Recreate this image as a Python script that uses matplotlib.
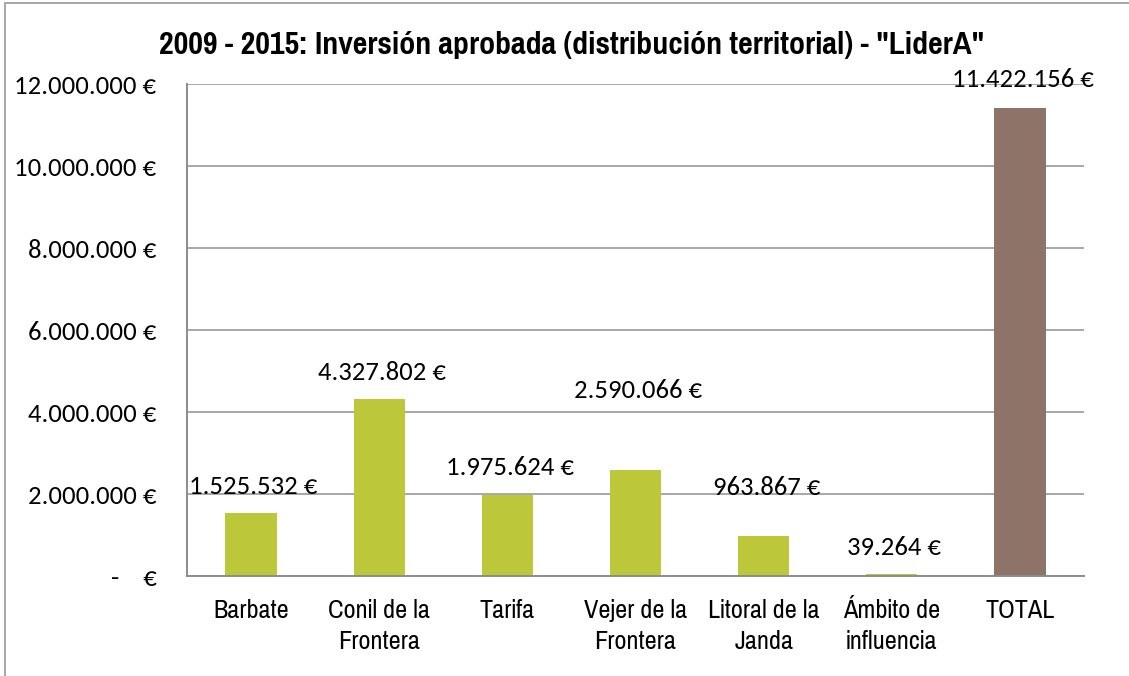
import matplotlib
matplotlib.use("Agg")
import matplotlib.pyplot as plt
from matplotlib import font_manager
from matplotlib.patches import Rectangle
from matplotlib.ticker import FuncFormatter, MultipleLocator

categories = ["Barbate", "Conil de la\nFrontera", "Tarifa", "Vejer de la\nFrontera",
              "Litoral de la\nJanda", "Ámbito de\ninfluencia", "TOTAL"]
values = [1525532, 4327802, 1975624, 2590066, 963867, 39264, 11422156]
bar_colors = ["#BCC83A"] * 6 + ["#8E7468"]
label_offsets_px = [26.5, 25.6, 27, 79, 48.5, 26.4, 28]
title = '2009 - 2015: Inversión aprobada (distribución territorial) - "LiderA"'

available = {f.name for f in font_manager.fontManager.ttflist}
narrow = [n for n in ["Pragati Narrow", "Liberation Sans Narrow", "Arial Narrow"] if n in available][:1] + ["Liberation Sans", "DejaVu Sans"]
num_font = [n for n in ["Carlito", "Calibri", "Lato"] if n in available][:1] + ["DejaVu Sans"]

W, H = 1129, 676
fig = plt.figure(figsize=(W / 100, H / 100), dpi=100)
fig.patch.set_facecolor("white")

# outer chart frame
fig.add_artist(Rectangle((5 / W, -0.2), 1.5, 1.2 - 2.5 / H, transform=fig.transFigure,
                         fill=False, edgecolor="#A6A6A6", linewidth=1.4))

ax = fig.add_axes([187 / W, 1 - 576 / H, 897 / W, 492 / H])
x = list(range(len(categories)))
ax.bar(x, values, width=0.4, color=bar_colors, zorder=3)
ax.set_xlim(-0.5, len(categories) - 0.5)
ax.set_ylim(0, 12000000)
ax.yaxis.set_major_locator(MultipleLocator(2000000))


def fmt(v, pos=None):
    if abs(v) < 0.5:
        return "-    €"
    return f"{int(round(v)):,}".replace(",", ".") + " €"


ax.yaxis.set_major_formatter(FuncFormatter(fmt))
ax.grid(axis="y", color="#A0A0A0", linewidth=1.3, zorder=0)
for s in ["top", "right"]:
    ax.spines[s].set_visible(False)
for s in ["left", "bottom"]:
    ax.spines[s].set_color("#8C8C8C")
    ax.spines[s].set_linewidth(1.4)
ax.spines["bottom"].set_zorder(4)

ax.set_xticks(x)
ax.set_xticklabels(categories, fontfamily=narrow, fontsize=20.6, linespacing=1.45)
ax.tick_params(axis="x", length=0, pad=16.5)
ax.tick_params(axis="y", length=0, pad=22)
for t in ax.get_yticklabels():
    t.set_fontfamily(num_font)
    t.set_fontsize(19.2)

for xi, v, off in zip(x, values, label_offsets_px):
    ax.annotate(fmt(v), xy=(xi, v), xytext=(2.5, off), textcoords="offset pixels",
                ha="center", va="center", fontfamily=num_font, fontsize=19.2, zorder=5)

fig.text(572 / W, 1 - 45 / H, title, ha="center", va="center",
         fontfamily=narrow, fontweight="bold", fontsize=25)

fig.savefig("out.png", dpi=100, facecolor="white")
